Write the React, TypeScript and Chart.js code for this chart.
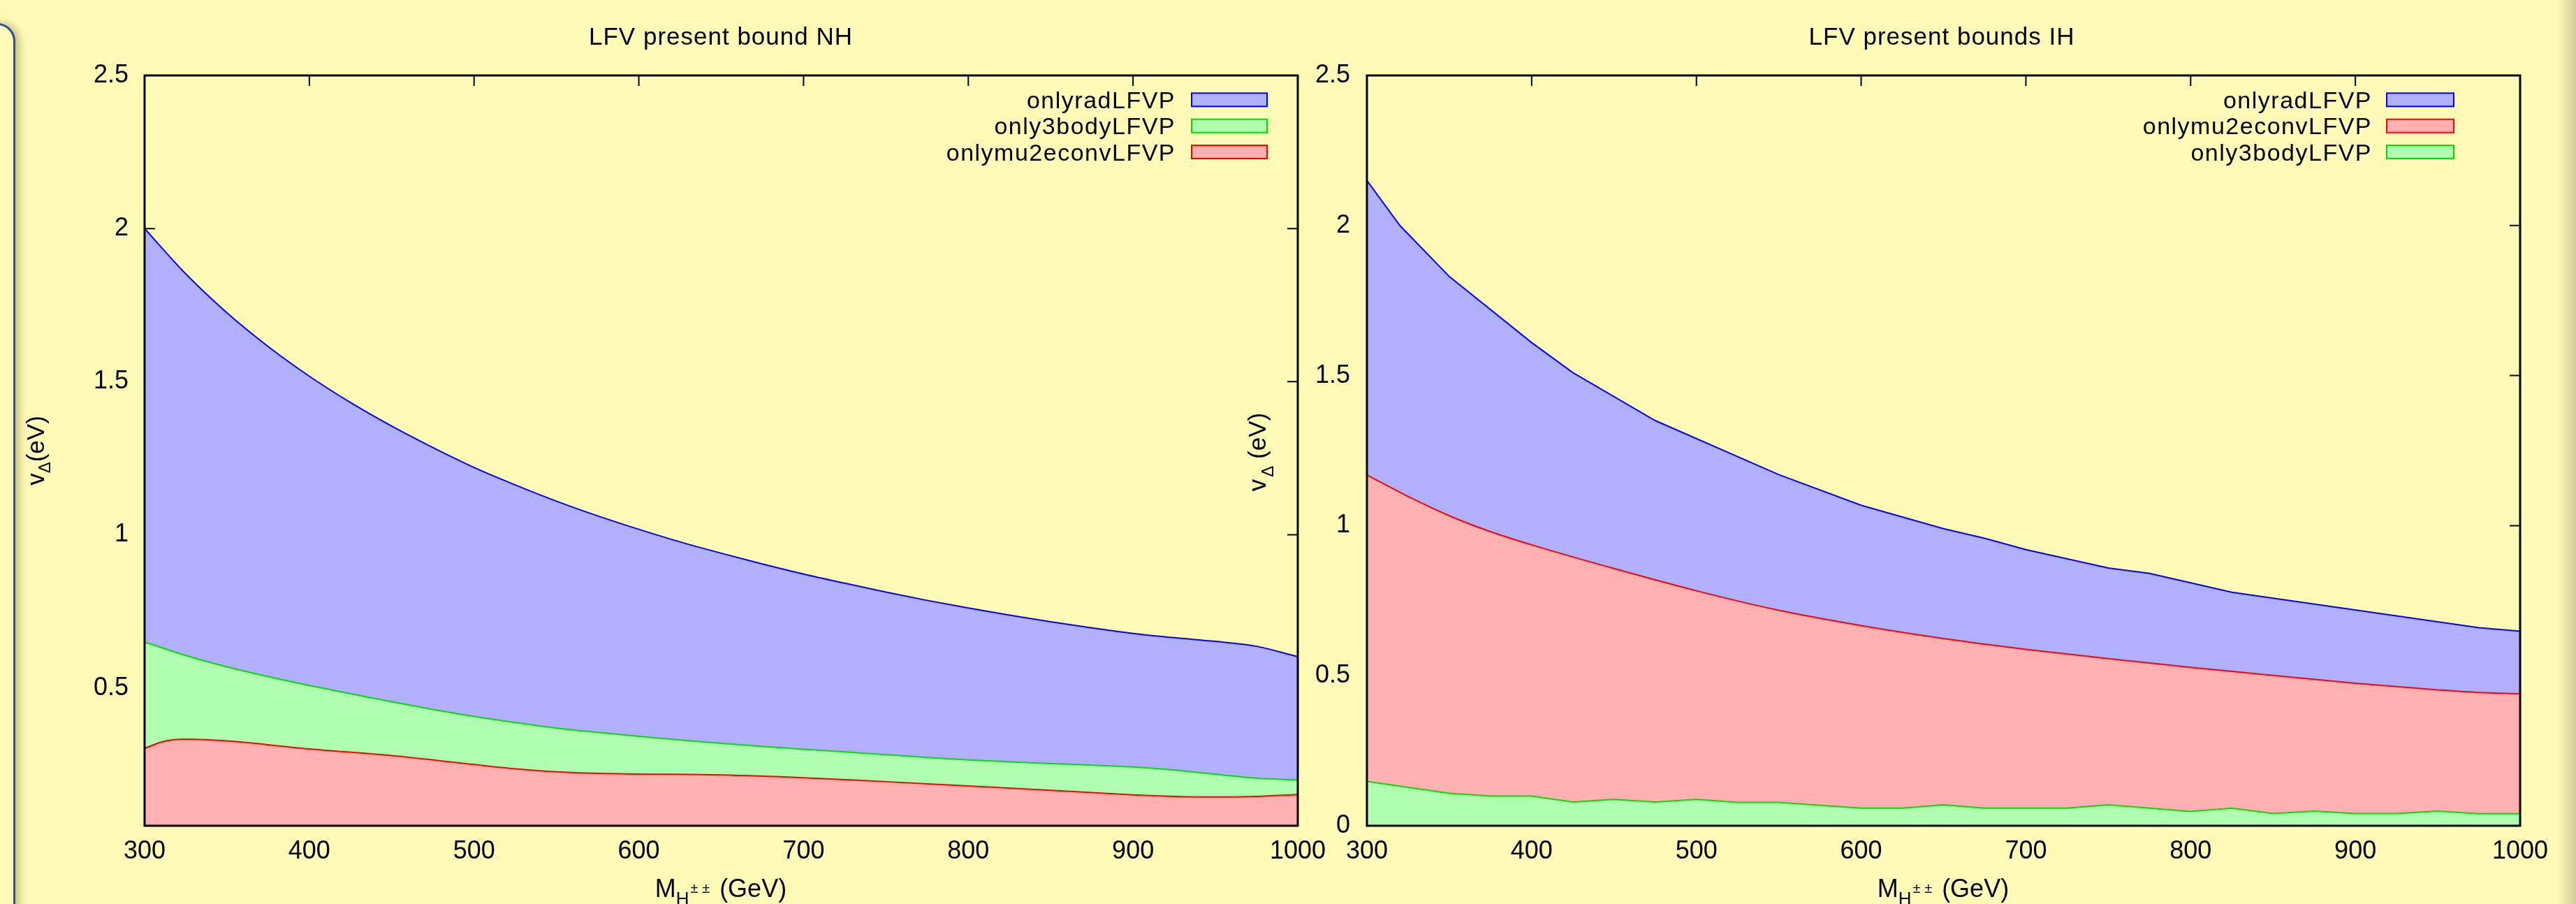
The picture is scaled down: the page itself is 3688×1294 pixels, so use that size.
import React, { useEffect, useRef } from "react";
import { Chart, registerables } from "chart.js";

Chart.register(...registerables);

const BG = "rgb(255,250,182)";
const FONT = "'Liberation Sans', Arial, Helvetica, sans-serif";

// ---------- shared ticks ----------
const xTickValues = [300, 400, 500, 600, 700, 800, 900, 1000];
const nhYTickValues = [0.5, 1, 1.5, 2, 2.5];
const ihYTickValues = [0, 0.5, 1, 1.5, 2, 2.5];

// ---------- NH panel data ----------
const nhGridMass = [300, 325, 350, 375, 400, 425, 450, 475, 500, 525, 550, 575, 600, 625, 650, 675, 700, 725, 750, 775, 800, 825, 850, 875, 900, 925, 950, 975, 1000];
const nhRad = [2.0, 1.852, 1.725, 1.615, 1.518, 1.432, 1.355, 1.285, 1.22, 1.163, 1.11, 1.062, 1.018, 0.977, 0.94, 0.905, 0.872, 0.842, 0.813, 0.786, 0.761, 0.738, 0.716, 0.696, 0.678, 0.664, 0.652, 0.636, 0.602];
const nh3body = [0.65, 0.606, 0.569, 0.537, 0.508, 0.481, 0.455, 0.43, 0.407, 0.387, 0.369, 0.355, 0.342, 0.33, 0.319, 0.309, 0.3, 0.291, 0.282, 0.273, 0.265, 0.259, 0.253, 0.248, 0.242, 0.232, 0.218, 0.205, 0.2];
const nhMu2eMass = [300, 312, 325, 350, 400, 450, 500, 525, 550, 575, 600, 650, 700, 750, 800, 850, 900, 925, 950, 975, 1000];
const nhMu2e = [0.303, 0.326, 0.333, 0.327, 0.301, 0.279, 0.25, 0.236, 0.226, 0.221, 0.219, 0.216, 0.207, 0.194, 0.18, 0.166, 0.151, 0.146, 0.144, 0.146, 0.152];

// ---------- IH panel data ----------
const ihRadMass = [300, 320, 350, 400, 425, 475, 550, 600, 650, 675, 700, 750, 775, 825, 975, 1000];
const ihRad = [2.15, 2.0, 1.83, 1.61, 1.51, 1.35, 1.17, 1.068, 0.99, 0.958, 0.92, 0.859, 0.841, 0.778, 0.66, 0.648];
const ihMu2eMass = [300, 325, 350, 375, 400, 450, 500, 550, 600, 650, 700, 750, 800, 850, 900, 950, 975, 1000];
const ihMu2e = [1.169, 1.097, 1.033, 0.98, 0.936, 0.857, 0.783, 0.718, 0.667, 0.624, 0.588, 0.557, 0.528, 0.501, 0.475, 0.453, 0.444, 0.44];
const ihBodyMass = [300, 325, 350, 375, 400, 425, 450, 475, 500, 525, 550, 575, 600, 625, 650, 675, 700, 725, 750, 775, 800, 825, 850, 875, 900, 925, 950, 975, 1000];
const ih3body = [0.148, 0.128, 0.108, 0.099, 0.099, 0.079, 0.088, 0.079, 0.088, 0.078, 0.078, 0.068, 0.059, 0.059, 0.07, 0.059, 0.059, 0.059, 0.07, 0.059, 0.048, 0.059, 0.041, 0.049, 0.041, 0.041, 0.049, 0.04, 0.04];

const BLUE = { fill: "rgb(176,176,255)", stroke: "#0000ff" };
const GREEN = { fill: "rgb(176,255,176)", stroke: "#00e000" };
const RED = { fill: "rgb(255,176,176)", stroke: "#ff0000" };

type Series = { label: string; xs: number[]; ys: number[]; fill: string; stroke: string; smooth: boolean };
type Part = { t: string; size: number; dy: number; gapBefore?: number };

type Panel = {
  canvasLeft: number;
  canvasWidth: number;
  padRight: number;
  yAxisWidth: number;
  yTickPad: number;
  ymin: number;
  yTicks: number[];
  drawSeries: Series[]; // index 0 drawn on top
  legendSeries: Series[];
  title: string;
  titleX: number;
  legendTextRight: number;
  legendSwatchLeft: number;
  legendSwatchRight: number;
  xLabelCenter: number;
  yLabelParts: Part[];
  yLabelBaselineX: number;
  yLabelCenterY: number;
};

const xLabelParts: Part[] = [
  { t: "M", size: 36, dy: 0 },
  { t: "H", size: 26, dy: 11 },
  { t: "± ±", size: 20, dy: -6, gapBefore: 2 },
  { t: " (GeV)", size: 36, dy: 0, gapBefore: 4 },
];

function measureParts(ctx: CanvasRenderingContext2D, parts: Part[]) {
  let w = 0;
  for (const p of parts) {
    ctx.font = `${p.size}px ${FONT}`;
    w += (p.gapBefore || 0) + ctx.measureText(p.t).width;
  }
  return w;
}

function drawParts(ctx: CanvasRenderingContext2D, parts: Part[], cx: number, baseline: number) {
  const total = measureParts(ctx, parts);
  let x = cx - total / 2;
  ctx.textAlign = "left";
  ctx.textBaseline = "alphabetic";
  for (const p of parts) {
    ctx.font = `${p.size}px ${FONT}`;
    x += p.gapBefore || 0;
    ctx.fillText(p.t, x, baseline + p.dy);
    x += ctx.measureText(p.t).width;
  }
}

function decorPlugin(p: Panel) {
  const off = p.canvasLeft;
  return {
    id: "gnuplotDecor",
    beforeDatasetsDraw(chart: any) {
      const { ctx, chartArea: a, scales } = chart;
      ctx.save();
      ctx.strokeStyle = "#000";
      ctx.lineWidth = 2;
      ctx.beginPath();
      for (const v of xTickValues) {
        const px = scales.x.getPixelForValue(v);
        ctx.moveTo(px, a.top);
        ctx.lineTo(px, a.top + 15);
        ctx.moveTo(px, a.bottom);
        ctx.lineTo(px, a.bottom - 15);
      }
      for (const v of p.yTicks) {
        const py = scales.y.getPixelForValue(v);
        ctx.moveTo(a.left, py);
        ctx.lineTo(a.left + 15, py);
        ctx.moveTo(a.right, py);
        ctx.lineTo(a.right - 15, py);
      }
      ctx.stroke();
      ctx.restore();
    },
    afterDatasetsDraw(chart: any) {
      const { ctx, chartArea: a } = chart;
      ctx.save();
      // frame
      ctx.strokeStyle = "#000";
      ctx.lineWidth = 3;
      ctx.strokeRect(a.left, a.top, a.right - a.left, a.bottom - a.top);

      ctx.fillStyle = "#000";
      // title
      ctx.font = `35px ${FONT}`;
      (ctx as any).letterSpacing = "1px";
      ctx.textAlign = "center";
      ctx.textBaseline = "alphabetic";
      ctx.fillText(p.title, p.titleX - off, 64);

      // legend
      ctx.font = `34px ${FONT}`;
      (ctx as any).letterSpacing = "1.5px";
      ctx.textAlign = "right";
      const rowY = [142.8, 180.2, 217.5];
      p.legendSeries.forEach((s, i) => {
        const cy = rowY[i];
        ctx.fillStyle = "#000";
        ctx.fillText(s.label, p.legendTextRight - off, cy + 12);
        ctx.fillStyle = s.fill;
        const x0 = p.legendSwatchLeft - off;
        const w = p.legendSwatchRight - p.legendSwatchLeft;
        ctx.fillRect(x0, cy - 9.5, w, 19);
        ctx.strokeStyle = s.stroke;
        ctx.lineWidth = 2;
        ctx.strokeRect(x0, cy - 9.5, w, 19);
      });
      (ctx as any).letterSpacing = "0px";

      // x axis label
      ctx.fillStyle = "#000";
      drawParts(ctx, xLabelParts, p.xLabelCenter - off, 1284);

      // y axis label (rotated)
      ctx.save();
      ctx.translate(p.yLabelBaselineX - off, p.yLabelCenterY);
      ctx.rotate(-Math.PI / 2);
      drawParts(ctx, p.yLabelParts, 0, 0);
      ctx.restore();

      ctx.restore();
    },
  };
}

function buildConfig(p: Panel): any {
  return {
    type: "line",
    data: {
      datasets: p.drawSeries.map((s) => ({
        label: s.label,
        data: s.xs.map((x, i) => ({ x, y: s.ys[i] })),
        borderColor: s.stroke,
        backgroundColor: s.fill,
        borderWidth: 2,
        fill: "start",
        pointRadius: 0,
        pointHoverRadius: 0,
        tension: s.smooth ? 0.4 : 0,
        cubicInterpolationMode: s.smooth ? "monotone" : "default",
      })),
    },
    options: {
      animation: false,
      responsive: false,
      devicePixelRatio: 1,
      events: [],
      layout: { padding: { left: 0, top: 108, right: p.padRight, bottom: 0 } },
      plugins: {
        legend: { display: false },
        tooltip: { enabled: false },
        title: { display: false },
      },
      scales: {
        x: {
          type: "linear",
          min: 300,
          max: 1000,
          grid: { display: false, drawTicks: false },
          border: { display: false },
          ticks: {
            font: { family: FONT, size: 36 },
            color: "#000",
            padding: 15,
            maxRotation: 0,
            minRotation: 0,
            autoSkip: false,
            callback: (v: any) => String(v),
          },
          afterBuildTicks: (s: any) => {
            s.ticks = xTickValues.map((v) => ({ value: v }));
          },
          afterFit: (s: any) => {
            s.height = 112;
            s.paddingLeft = 0;
            s.paddingRight = 0;
          },
        },
        y: {
          type: "linear",
          min: p.ymin,
          max: 2.5,
          grid: { display: false, drawTicks: false },
          border: { display: false },
          ticks: {
            font: { family: FONT, size: 36 },
            color: "#000",
            padding: p.yTickPad,
            autoSkip: false,
            callback: (v: any) => String(v),
          },
          afterBuildTicks: (s: any) => {
            s.ticks = p.yTicks.map((v) => ({ value: v }));
          },
          afterFit: (s: any) => {
            s.width = p.yAxisWidth;
            s.paddingTop = 0;
            s.paddingBottom = 0;
          },
        },
      },
    },
    plugins: [decorPlugin(p)],
  };
}

const nhRadS: Series = { label: "onlyradLFVP", xs: nhGridMass, ys: nhRad, ...BLUE, smooth: true };
const nh3bodyS: Series = { label: "only3bodyLFVP", xs: nhGridMass, ys: nh3body, ...GREEN, smooth: true };
const nhMu2eS: Series = { label: "onlymu2econvLFVP", xs: nhMu2eMass, ys: nhMu2e, ...RED, smooth: true };

const ihRadS: Series = { label: "onlyradLFVP", xs: ihRadMass, ys: ihRad, ...BLUE, smooth: false };
const ihMu2eS: Series = { label: "onlymu2econvLFVP", xs: ihMu2eMass, ys: ihMu2e, ...RED, smooth: true };
const ih3bodyS: Series = { label: "only3bodyLFVP", xs: ihBodyMass, ys: ih3body, ...GREEN, smooth: false };

const nhPanel: Panel = {
  canvasLeft: 0,
  canvasWidth: 1930,
  padRight: 72,
  yAxisWidth: 207,
  yTickPad: 23,
  ymin: 0.05,
  yTicks: nhYTickValues,
  drawSeries: [nhMu2eS, nh3bodyS, nhRadS],
  legendSeries: [nhRadS, nh3bodyS, nhMu2eS],
  title: "LFV present bound NH",
  titleX: 1032,
  legendTextRight: 1683,
  legendSwatchLeft: 1706,
  legendSwatchRight: 1814,
  xLabelCenter: 1032,
  yLabelParts: [
    { t: "v", size: 35, dy: 0 },
    { t: "Δ", size: 24, dy: 9 },
    { t: "(eV)", size: 35, dy: 0 },
  ],
  yLabelBaselineX: 63,
  yLabelCenterY: 645,
};

const ihPanel: Panel = {
  canvasLeft: 1760,
  canvasWidth: 1928,
  padRight: 80,
  yAxisWidth: 197,
  yTickPad: 24,
  ymin: 0,
  yTicks: ihYTickValues,
  drawSeries: [ih3bodyS, ihMu2eS, ihRadS],
  legendSeries: [ihRadS, ihMu2eS, ih3bodyS],
  title: "LFV present bounds IH",
  titleX: 2780,
  legendTextRight: 3396,
  legendSwatchLeft: 3417,
  legendSwatchRight: 3513,
  xLabelCenter: 2782,
  yLabelParts: [
    { t: "v", size: 35, dy: 0 },
    { t: "Δ", size: 24, dy: 11, gapBefore: 3 },
    { t: " (eV)", size: 35, dy: 0 },
  ],
  yLabelBaselineX: 1812,
  yLabelCenterY: 647,
};

function ChartPanel({ panel }: { panel: Panel }) {
  const ref = useRef<HTMLCanvasElement>(null);
  useEffect(() => {
    if (!ref.current) return;
    const chart = new Chart(ref.current, buildConfig(panel));
    return () => chart.destroy();
  }, [panel]);
  return (
    <canvas
      ref={ref}
      width={panel.canvasWidth}
      height={1294}
      style={{ position: "absolute", left: panel.canvasLeft, top: 0, width: panel.canvasWidth, height: 1294 }}
    />
  );
}

export default function App() {
  return (
    <div
      style={{
        position: "fixed",
        left: 0,
        top: 0,
        width: 3688,
        height: 1294,
        overflow: "hidden",
        background: BG,
      }}
    >
      <div
        style={{
          position: "absolute",
          left: -300,
          top: 33,
          width: 322,
          height: 1400,
          boxSizing: "border-box",
          border: "3px solid #2c52a5",
          borderRadius: 26,
          boxShadow: "6px 0 12px rgba(90,80,30,0.35)",
          background: BG,
        }}
      />
      <div
        style={{
          position: "absolute",
          left: 3660,
          top: 0,
          width: 28,
          height: 1294,
          background: "linear-gradient(to right, rgba(255,250,182,0), rgba(210,205,155,1))",
        }}
      />
      <ChartPanel panel={nhPanel} />
      <ChartPanel panel={ihPanel} />
    </div>
  );
}
